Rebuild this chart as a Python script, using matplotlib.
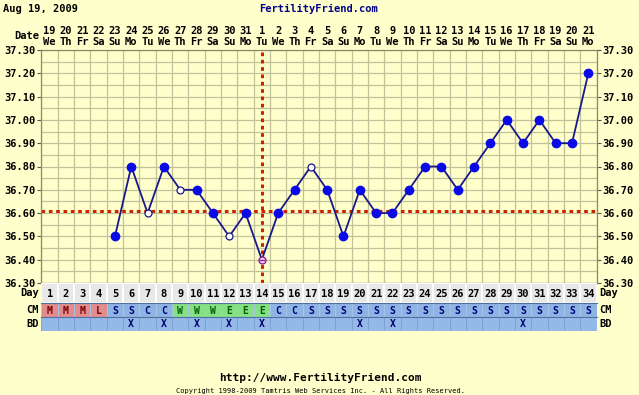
import matplotlib
matplotlib.use("Agg")
import matplotlib.pyplot as plt
import numpy as np

# chart data
days = list(range(1, 35))
dates = list(range(19, 32)) + list(range(1, 22))
weekdays = (["We", "Th", "Fr", "Sa", "Su", "Mo", "Tu"] * 5)[:34]
temps = [None, None, None, None,
         36.50, 36.80, 36.60, 36.80, 36.70, 36.70, 36.60, 36.50, 36.60, 36.40,
         36.60, 36.70, 36.80, 36.70, 36.50, 36.70, 36.60, 36.60, 36.70, 36.80,
         36.80, 36.70, 36.80, 36.90, 37.00, 36.90, 37.00, 36.90, 36.90, 37.20]
open_days = [7, 9, 12, 17]
ovulation_day = 14
coverline = 36.61
cm_codes = list("MMMLSSCCWWWEEECCS") + ["S"] * 17
bd_days = [6, 8, 10, 12, 14, 20, 22, 30]
temp_ticks = [36.30, 36.40, 36.50, 36.60, 36.70, 36.80, 36.90, 37.00, 37.10, 37.20, 37.30]

W, H = 639, 395
BG = "#FFFFCC"
GRID = "#C2C29A"
FONT = "DejaVu Sans Mono"

cm_fill = {"M": "#E38C8C", "L": "#E38C8C", "S": "#8DB4E2", "C": "#8DB4E2",
           "W": "#86E086", "E": "#86E086"}
cm_text = {"M": "#7A0000", "L": "#7A0000", "S": "#00007A", "C": "#00007A",
           "W": "#006000", "E": "#006000"}

fig = plt.figure(figsize=(W / 100, H / 100), dpi=100, facecolor=BG)

def box(x0, y0, x1, y1):
    # pixel box (top-left origin) -> figure fraction rect
    return [x0 / W, 1 - y1 / H, (x1 - x0) / W, (y1 - y0) / H]

left, right = 41.5, 596.5
ax = fig.add_axes(box(left, 50, right, 283))
ax.set_facecolor(BG)
ax.set_xlim(0.5, 34.5)
ax.set_ylim(36.30, 37.30)

# grid
for xv in np.arange(0.5, 35, 1):
    ax.axvline(xv, color=GRID, lw=0.9, zorder=1)
for yv in np.arange(36.30, 37.31, 0.05):
    ax.axhline(yv, color=GRID, lw=0.9, zorder=1)
for s in ax.spines.values():
    s.set_color("#8A8A6A")
    s.set_linewidth(0.9)

ax.set_xticks([])
ax.set_yticks(temp_ticks)
ax.set_yticklabels(["%.2f" % t for t in temp_ticks])
ax.tick_params(axis="y", which="both", left=True, right=True, labelleft=True,
               labelright=True, length=3, width=0.8, color="#555555", pad=1,
               labelsize=7.5)
for lab in ax.get_yticklabels():
    lab.set_fontfamily(FONT)
    lab.set_fontweight("bold")

# coverline and ovulation line
ax.axhline(coverline, color="#CC2200", lw=2.2, ls=(0, (1.2, 1.2)), zorder=2)
ax.axvline(ovulation_day, color="#CC2200", lw=2.2, ls=(0, (1.2, 1.2)), zorder=2)

# temperature line
xs = [d for d, t in zip(days, temps) if t is not None]
ys = [t for t in temps if t is not None]
ax.plot(xs, ys, color="#18188A", lw=1.3, zorder=3)
fx = [d for d in xs if d not in open_days and d != ovulation_day]
fy = [temps[d - 1] for d in fx]
ax.plot(fx, fy, "o", ms=6, color="#0A0AE6", mec="#0A0AE6", zorder=4)
ox = open_days
oy = [temps[d - 1] for d in ox]
ax.plot(ox, oy, "o", ms=5, mfc="white", mec="#18188A", mew=0.9, zorder=4)
ax.plot([ovulation_day], [temps[ovulation_day - 1]], "o", ms=5, mfc="#F0E0F0",
        mec="#9020A0", mew=1.0, zorder=4)
ax.plot([ovulation_day], [temps[ovulation_day - 1]], "_", ms=5, color="#9020A0",
        mew=1.0, zorder=5)

# date header
tr = ax.get_xaxis_transform()
for d, dt, wd in zip(days, dates, weekdays):
    ax.text(d, 1 + 19 / 233, str(dt), transform=tr, ha="center", va="center",
            fontsize=7.5, fontweight="bold", family=FONT)
    ax.text(d, 1 + 8 / 233, wd, transform=tr, ha="center", va="center",
            fontsize=7.5, fontweight="bold", family=FONT)
fig.text(39 / W, 1 - 36 / H, "Date", ha="right", va="center", fontsize=7.5,
         fontweight="bold", family=FONT)

# bottom rows
rows = [("Day", 283, 303), ("CM", 303, 317), ("BD", 317, 330.5)]
for name, y0, y1 in rows:
    rax = fig.add_axes(box(left, y0, right, y1))
    rax.set_xlim(0.5, 34.5)
    rax.set_ylim(0, 1)
    rax.axis("off")
    if name == "Day":
        rax.bar(days, 1, width=1, bottom=0, color="#E8E8E8", edgecolor="white", lw=1.2)
        for d in days:
            rax.text(d, 0.45, str(d), ha="center", va="center", fontsize=7.5,
                     fontweight="bold", family=FONT)
    elif name == "CM":
        rax.bar(days, 1, width=1, color=[cm_fill[c] for c in cm_codes],
                edgecolor="#A8C4EA", lw=0.6)
        for d, c in zip(days, cm_codes):
            rax.text(d, 0.45, c, ha="center", va="center", fontsize=7,
                     fontweight="bold", family=FONT, color=cm_text[c])
    else:
        rax.bar(days, 1, width=1, color="#94B8E8", edgecolor="#7A9ED0", lw=0.6)
        for d in bd_days:
            rax.text(d, 0.45, "X", ha="center", va="center", fontsize=7,
                     fontweight="bold", family=FONT, color="#00006A")
    ymid = 1 - (y0 + y1) / 2 / H
    fig.text(39 / W, ymid, name, ha="right", va="center", fontsize=7.5,
             fontweight="bold", family=FONT)
    fig.text(599 / W, ymid, name, ha="left", va="center", fontsize=7.5,
             fontweight="bold", family=FONT)
# separator line between day row and CM row
fig.add_artist(plt.Line2D([left / W, right / W], [1 - 303 / H, 1 - 303 / H],
                          color="#5070A0", lw=0.8))
fig.add_artist(plt.Line2D([left / W, right / W], [1 - 317 / H, 1 - 317 / H],
                          color="#5070A0", lw=0.8))

# titles and footer
fig.text(3 / W, 1 - 9 / H, "Aug 19, 2009", ha="left", va="center", fontsize=7.5,
         fontweight="bold", family=FONT)
fig.text(318 / W, 1 - 9 / H, "FertilityFriend.com", ha="center", va="center",
         fontsize=7.5, fontweight="bold", family=FONT, color="#00008A")
fig.text(320 / W, 1 - 378 / H, "http://www.FertilityFriend.com", ha="center",
         va="center", fontsize=8, fontweight="bold", family=FONT)
fig.text(320 / W, 1 - 391 / H,
         "Copyright 1998-2009 Tamtris Web Services Inc. - All Rights Reserved.",
         ha="center", va="center", fontsize=5, family=FONT)

fig.savefig("out.png", dpi=100, facecolor=BG)
